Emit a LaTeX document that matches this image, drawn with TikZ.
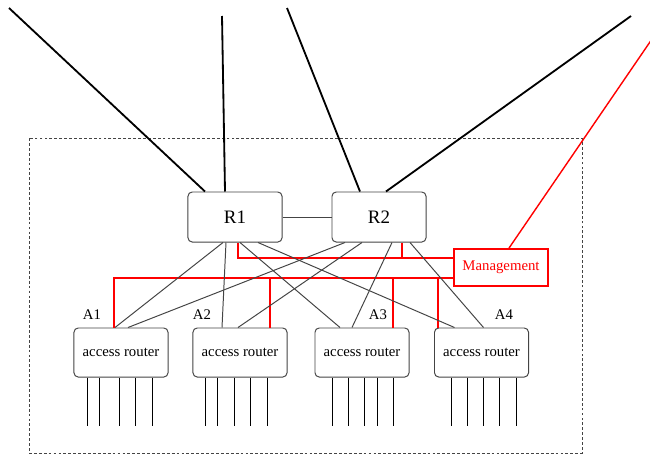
\documentclass[tikz,border=0pt]{standalone}
\usepackage{fontspec}
\setmainfont{Liberation Serif}
\usetikzlibrary{calc}
\definecolor{mgmt}{HTML}{FF0000}
\definecolor{edge}{HTML}{444444}

\begin{document}
\begin{tikzpicture}[x=0.025cm, y=-0.025cm,
    router/.style={draw=edge, line width=0.7pt, rounded corners=3pt, minimum width=2.35cm, minimum height=1.225cm, font=\fontsize{10.5}{12}\selectfont},
    core/.style={router, minimum height=1.25cm, font=\fontsize{13.5}{15}\selectfont},
    mbox/.style={draw=mgmt, line width=1.3pt, text=mgmt, minimum width=2.35cm, minimum height=0.925cm, font=\fontsize{10.5}{12}\selectfont},
    tag/.style={font=\fontsize{10.5}{12}\selectfont},
    uplink/.style={line width=1.3pt},
    link/.style={draw=edge, line width=0.7pt},
    mline/.style={draw=mgmt, line width=1pt},
    port/.style={line width=0.6pt}
]
    \useasboundingbox (0,0) rectangle (650,455);
    % site boundary
    \draw[edge, line width=0.5pt, dash pattern=on 2pt off 1.5pt] (29,138) rectangle (582,453);

    % core routers and management
    \node[core] (r1) at (235,217) {R1};
    \node[core] (r2) at (379,217) {R2};
    \node[mbox] (mg) at (501,267.5) {Management};

    % access routers
    \node[router] (a1) at (121,352.5) {access router};
    \node[router] (a2) at (240,352.5) {access router};
    \node[router] (a3) at (362,352.5) {access router};
    \node[router] (a4) at (481.5,352.5) {access router};
    \node[tag] (l1) at (92,315) {A1};
    \node[tag] (l2) at (202,315) {A2};
    \node[tag] (l3) at (378,315) {A3};
    \node[tag] (l4) at (504,315) {A4};

    % uplinks
    \coordinate (u1) at (9,8);
    \coordinate (u2) at (222,16);
    \coordinate (u3) at (287,8);
    \coordinate (u4) at (631,16);
    \coordinate (u5) at (652,39);
    \draw[uplink] (u1) -- ($(r1.north)+(-30,0)$);
    \draw[uplink] (u2) -- ($(r1.north)+(-10,0)$);
    \draw[uplink] (u3) -- ($(r2.north)+(-19,0)$);
    \draw[uplink] (u4) -- ($(r2.north)+(7,0)$);
    \draw[mline] (u5) -- ($(mg.north)+(8,0)$);

    % management network
    \coordinate (m1) at ($(mg.west)+(0,-9.5)$);
    \coordinate (m2) at ($(mg.west)+(0,10.5)$);
    \coordinate (d0) at ($(r2.south)+(23,0)$);
    \coordinate (d2) at ($(a2.north)+(30,0)$);
    \coordinate (d3) at ($(a3.north)+(31,0)$);
    \coordinate (d4) at ($(a4.north)+(-43.5,0)$);
    \draw[mline] ($(r1.south)+(3,0)$) |- (m1);
    \draw[mline] (d0) -- (d0 |- m1);
    \draw[mline] (m2) -| ($(a1.north)+(-7,0)$);
    \foreach \d in {d2,d3,d4}
        \draw[mline] (\d) -- (\d |- m2);

    % core to access links
    \draw[link] (r1) -- (r2);
    \draw[link] ($(r1.south)+(-12,0)$) -- ($(a1.north)+(-6,0)$);
    \draw[link] ($(r1.south)+(-9,0)$) -- ($(a2.north)+(-18,0)$);
    \draw[link] ($(r1.south)+(5,0)$) -- ($(a3.north)+(-22,0)$);
    \draw[link] ($(r1.south)+(23,0)$) -- ($(a4.north)+(-27,0)$);
    \draw[link] ($(r2.south)+(-34,0)$) -- ($(a1.north)+(7,0)$);
    \draw[link] ($(r2.south)+(-17,0)$) -- ($(a2.north)+(-2,0)$);
    \draw[link] ($(r2.south)+(13,0)$) -- ($(a3.north)+(-10,0)$);
    \draw[link] ($(r2.south)+(31,0)$) -- ($(a4.north)+(2,0)$);

    % host ports
    \foreach \n/\pa/\pb/\pc/\pd/\pe in {a1/-34/-22/-2/14/31, a2/-35/-23/-6/10/27, a3/-30/-14/2/15/31, a4/-30.5/-14.5/1.5/17.5/34.5}
        \foreach \d in {\pa,\pb,\pc,\pd,\pe}
            \draw[port] ($(\n.south)+(\d,0)$) -- ++(0,48);
\end{tikzpicture}
\end{document}
